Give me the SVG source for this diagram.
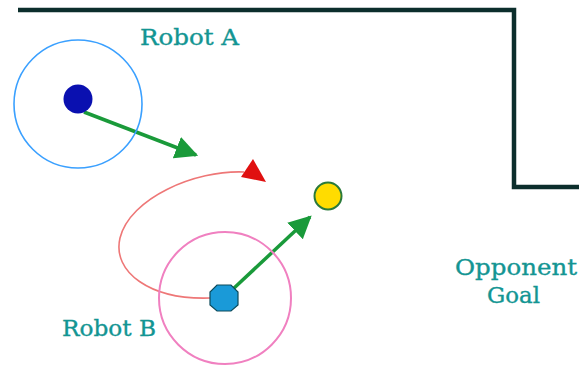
<svg xmlns="http://www.w3.org/2000/svg" width="579" height="368" viewBox="0 0 579 368">
  <style>
    .label { font-family: "DejaVu Serif", "Liberation Serif", serif; font-size: 22px; fill: #139593; stroke: #139593; stroke-width: 0.35; }
    .wall { fill: none; stroke: #0c2e2c; stroke-width: 4.5; stroke-linejoin: miter; }
    .move { stroke: #1a9a3a; stroke-width: 3.5; fill: none; }
    .path { stroke: #ee7777; stroke-width: 1.6; fill: none; }
  </style>
  <defs>
    <marker id="greenHead" viewBox="0 0 10 10" refX="9" refY="5" markerWidth="6.5" markerHeight="6.5" markerUnits="strokeWidth" orient="auto">
      <path d="M0,0 L10,5 L0,10 Z" fill="#1a9a3a"/>
    </marker>
  </defs>

  <rect width="579" height="368" fill="#ffffff"/>

  <!-- field boundary and goal mouth -->
  <path class="wall" d="M18,10 H514 V187 H579"/>

  <g id="connectors">
    <path class="path" d="M210,298 C150,300 112,272 120,238 C130,198 195,170 244,172"/>
    <polygon points="241,177 253,159 266,182" fill="#e01010"/>
    <line class="move" x1="84" y1="112" x2="196" y2="155" marker-end="url(#greenHead)"/>
    <line class="move" x1="233" y1="289" x2="310" y2="217" marker-end="url(#greenHead)"/>
  </g>

  <g id="robotA">
    <circle cx="78" cy="104" r="64" fill="none" stroke="#3aa0ff" stroke-width="1.6"/>
    <circle cx="78" cy="99" r="14.5" fill="#0a10b0"/>
    <text class="label" x="140" y="45" textLength="99" lengthAdjust="spacingAndGlyphs">Robot A</text>
  </g>

  <g id="robotB">
    <circle cx="225" cy="298" r="66" fill="none" stroke="#f080c0" stroke-width="2"/>
    <polygon points="217,285 231,285 238,292 238,305 231,311 217,311 210,305 210,292" fill="#1a9ad8" stroke="#0c4a5a" stroke-width="1.2"/>
    <text class="label" x="62" y="336" textLength="94" lengthAdjust="spacingAndGlyphs">Robot B</text>
  </g>

  <g id="ball">
    <circle cx="328" cy="196" r="13.5" fill="#ffdc00" stroke="#2a7a3a" stroke-width="2"/>
  </g>

  <g id="goal">
    <text class="label" x="455" y="275" textLength="122" lengthAdjust="spacingAndGlyphs">Opponent</text>
    <text class="label" x="487" y="303" textLength="53" lengthAdjust="spacingAndGlyphs">Goal</text>
  </g>
</svg>
